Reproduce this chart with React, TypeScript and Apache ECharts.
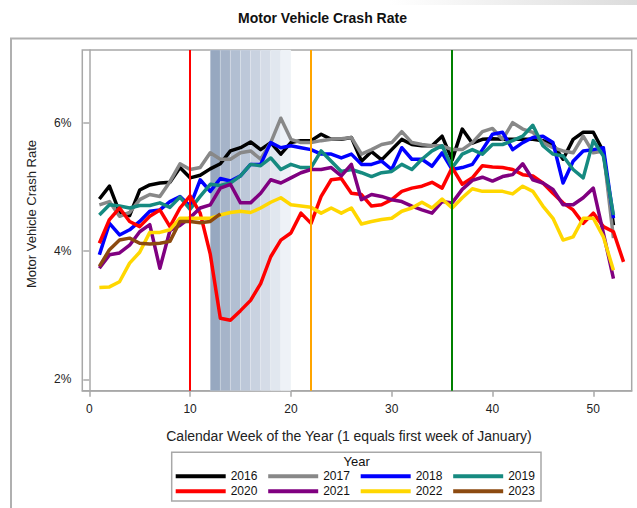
import { useEffect, useRef } from 'react';
import * as echarts from 'echarts';

// Weekly motor vehicle crash rate (%), week 1 = first element
const years = ['2016', '2017', '2018', '2019', '2020', '2021', '2022', '2023'];
const colors = ['#000000', '#888888', '#0000FF', '#168A80', '#FF0000', '#800080', '#FFD700', '#8C4A10'];

const y2016 = [4.81, 5.01, 4.6, 4.55, 4.95, 5.03, 5.06, 5.07, 5.3, 5.14, 5.18, 5.28, 5.36, 5.56, 5.61, 5.7, 5.58, 5.69, 5.51, 5.69, 5.72, 5.72, 5.82, 5.74, 5.74, 5.77, 5.4, 5.55, 5.42, 5.58, 5.74, 5.66, 5.64, 5.64, 5.79, 5.42, 5.9, 5.68, 5.74, 5.75, 5.74, 5.74, 5.74, 5.74, 5.72, 5.66, 5.43, 5.74, 5.85, 5.85, 5.55, 4.4];
const y2017 = [4.72, 4.77, 4.54, 4.6, 4.8, 4.88, 4.85, 5.08, 5.36, 5.27, 5.3, 5.53, 5.43, 5.43, 5.53, 5.56, 5.43, 5.69, 6.07, 5.74, 5.69, 5.69, 5.72, 5.74, 5.75, 5.77, 5.51, 5.58, 5.66, 5.69, 5.86, 5.69, 5.66, 5.64, 5.64, 5.58, 5.58, 5.69, 5.86, 5.91, 5.74, 6.0, 5.9, 5.85, 5.69, 5.61, 5.56, 5.53, 5.79, 5.53, 5.56, 4.2];
const y2018 = [3.94, 4.43, 4.25, 4.33, 4.46, 4.62, 4.64, 4.77, 4.85, 4.7, 5.11, 4.93, 5.13, 5.09, 5.17, 5.35, 5.35, 5.69, 5.61, 5.64, 5.61, 5.58, 5.51, 5.51, 5.45, 5.51, 5.35, 5.35, 5.4, 5.27, 5.61, 5.43, 5.43, 5.32, 5.53, 5.27, 5.3, 5.35, 5.58, 5.82, 5.85, 5.58, 5.69, 5.77, 5.79, 5.69, 5.06, 5.4, 5.56, 5.58, 5.61, 4.51];
const y2019 = [4.56, 4.72, 4.7, 4.67, 4.71, 4.71, 4.75, 4.68, 4.84, 4.65, 4.85, 5.04, 5.02, 5.06, 5.17, 5.35, 5.33, 5.45, 5.27, 5.35, 5.3, 5.3, 5.56, 5.4, 5.24, 5.27, 5.22, 5.16, 5.22, 5.24, 5.35, 5.27, 5.43, 5.56, 5.64, 5.3, 5.51, 5.58, 5.51, 5.66, 5.66, 5.72, 5.79, 5.96, 5.64, 5.51, 5.48, 5.27, 5.14, 5.72, 5.48, 4.56];
const y2020 = [4.12, 4.49, 4.67, 4.46, 4.38, 4.54, 4.64, 4.38, 4.67, 4.86, 4.59, 3.95, 2.95, 2.92, 3.07, 3.23, 3.49, 3.91, 4.17, 4.28, 4.59, 4.43, 4.85, 5.11, 5.13, 4.9, 4.88, 4.7, 4.72, 4.8, 4.93, 4.98, 5.01, 5.07, 4.98, 5.3, 5.04, 5.14, 5.33, 5.31, 5.3, 5.27, 5.19, 5.17, 5.06, 4.9, 4.75, 4.64, 4.43, 4.59, 4.38, 4.3, 3.83];
const y2021 = [3.73, 3.94, 3.97, 4.09, 4.3, 4.41, 3.73, 4.32, 4.4, 4.52, 4.67, 4.72, 4.98, 5.04, 4.75, 4.75, 4.9, 5.11, 5.06, 5.14, 5.22, 5.27, 5.27, 5.3, 5.17, 5.35, 4.8, 4.88, 4.85, 4.8, 4.77, 4.7, 4.64, 4.59, 4.77, 4.75, 4.96, 5.1, 5.15, 5.09, 5.16, 5.19, 5.36, 5.11, 5.06, 4.96, 4.72, 4.72, 4.83, 4.98, 4.28, 3.57];
const y2022 = [3.43, 3.44, 3.52, 3.81, 3.98, 4.29, 4.29, 4.33, 4.51, 4.51, 4.51, 4.51, 4.56, 4.6, 4.62, 4.6, 4.67, 4.76, 4.83, 4.72, 4.7, 4.68, 4.59, 4.67, 4.59, 4.67, 4.42, 4.46, 4.49, 4.51, 4.62, 4.67, 4.76, 4.67, 4.81, 4.67, 4.83, 4.97, 4.93, 4.93, 4.93, 4.89, 5.01, 4.93, 4.7, 4.51, 4.17, 4.22, 4.51, 4.51, 4.22, 3.7];
const y2023 = [3.76, 4.02, 4.17, 4.2, 4.12, 4.11, 4.12, 4.15, 4.46, 4.46, 4.44, 4.46, 4.58];
const seriesValues = [y2016, y2017, y2018, y2019, y2020, y2021, y2022, y2023];

// Reference weeks and shaded weeks
const refWeeks = [10, 22, 36];
const refColors = ['#FF0000', '#FFA500', '#008000'];
const shadeStarts = [12, 13, 14, 15, 16, 17, 18, 19];
const shadeColors = ['#97A8C0', '#A6B4C9', '#B2BFD2', '#BDC8D9', '#C9D2E0', '#D5DCE7', '#E1E7EF', '#EEF2F7'];

const xTicks = [0, 10, 20, 30, 40, 50];
const yTicks = [2, 4, 6];

const FONT = '"Liberation Sans", Arial, sans-serif';
const AXIS_COLOR = '#a8a8a8';

export default function App() {
  const ref = useRef<HTMLDivElement>(null);
  useEffect(() => {
    const chart = echarts.init(ref.current!, null, { renderer: 'svg' });
    const dataSeries = years.map((yr, k) => ({
      name: yr,
      type: 'line',
      data: seriesValues[k].map((v, i) => [i + 1, v]),
      showSymbol: false,
      symbol: 'none',
      lineStyle: { color: colors[k], width: 3.5, join: 'round' },
      itemStyle: { color: colors[k] },
      z: 3,
    }));
    const refSeries = {
      name: 'ref',
      type: 'line',
      data: [],
      z: 1,
      markArea: {
        silent: true,
        data: shadeStarts.map((s, i) => [
          { xAxis: s, itemStyle: { color: shadeColors[i], borderColor: 'rgba(255,255,255,0.35)', borderWidth: 0.5 } },
          { xAxis: s + 1 },
        ]),
      },
      markLine: {
        silent: true,
        symbol: ['none', 'none'],
        label: { show: false },
        data: refWeeks.map((w, i) => ({ xAxis: w, lineStyle: { color: refColors[i], width: 2, type: 'solid' } })),
      },
    };
    const legendCommon = {
      orient: 'horizontal',
      icon: 'rect',
      padding: 0,
      itemWidth: 50,
      itemHeight: 4,
      itemGap: 10.8,
      selectedMode: false,
      textStyle: { fontFamily: FONT, fontSize: 12, color: '#111' },
    };
    chart.setOption({
      animation: false,
      textStyle: { fontFamily: FONT },
      grid: {
        left: 82.3,
        top: 50,
        width: 549.4,
        height: 340.7,
        show: true,
        borderColor: AXIS_COLOR,
        borderWidth: 1.5,
        backgroundColor: 'transparent',
      },
      xAxis: {
        type: 'value',
        min: -0.694,
        max: 53.81,
        splitLine: { show: false },
        axisLine: { show: true, onZero: false, lineStyle: { color: AXIS_COLOR, width: 1.5 } },
        axisTick: { show: true, customValues: xTicks, length: 6, lineStyle: { color: AXIS_COLOR, width: 1.5 } },
        axisLabel: { customValues: xTicks, margin: 12, fontSize: 12, color: '#222', fontFamily: FONT },
      },
      yAxis: {
        type: 'value',
        min: 1.822,
        max: 7.133,
        splitLine: { show: false },
        axisLine: { show: true, lineStyle: { color: AXIS_COLOR, width: 1.5 } },
        axisTick: { show: true, customValues: yTicks, length: 6, lineStyle: { color: AXIS_COLOR, width: 1.5 } },
        axisLabel: {
          customValues: yTicks,
          margin: 11,
          fontSize: 12,
          color: '#222',
          fontFamily: FONT,
          formatter: (v: number) => `${v}%`,
        },
      },
      legend: [
        { ...legendCommon, data: years.slice(0, 4), left: 175.7, top: 470.3 },
        { ...legendCommon, data: years.slice(4), left: 175.7, top: 485.3 },
      ],
      graphic: [
        {
          type: 'rect',
          silent: true,
          shape: { x: 390, y: 0, width: 247, height: 5 },
          style: {
            fill: new echarts.graphic.LinearGradient(0, 0, 1, 0, [
              { offset: 0, color: '#ffffff' },
              { offset: 1, color: '#dcdcdc' },
            ]),
          },
        },
        {
          type: 'rect',
          silent: true,
          shape: { x: 11, y: 38.5, width: 700, height: 600 },
          style: { fill: 'none', stroke: '#b0b0b0', lineWidth: 2 },
        },
        {
          type: 'rect',
          silent: true,
          shape: { x: 171.7, y: 452.3, width: 369.3, height: 48.7 },
          style: { fill: 'none', stroke: '#a8a8a8', lineWidth: 1.5 },
        },
        {
          type: 'text',
          silent: true,
          x: 322.5,
          y: 17.5,
          style: {
            text: 'Motor Vehicle Crash Rate',
            fontFamily: FONT,
            fontSize: 14,
            fontWeight: 'bold',
            fill: '#111',
            align: 'center',
            verticalAlign: 'middle',
          },
        },
        {
          type: 'text',
          silent: true,
          x: 349,
          y: 436,
          style: {
            text: 'Calendar Week of the Year (1 equals first week of January)',
            fontFamily: FONT,
            fontSize: 14,
            fill: '#222',
            align: 'center',
            verticalAlign: 'middle',
          },
        },
        {
          type: 'text',
          silent: true,
          x: 31.7,
          y: 214,
          rotation: Math.PI / 2,
          style: {
            text: 'Motor Vehicle Crash Rate',
            fontFamily: FONT,
            fontSize: 13,
            fill: '#222',
            align: 'center',
            verticalAlign: 'middle',
          },
        },
        {
          type: 'text',
          silent: true,
          x: 356.7,
          y: 461.7,
          style: {
            text: 'Year',
            fontFamily: FONT,
            fontSize: 13,
            fill: '#111',
            align: 'center',
            verticalAlign: 'middle',
          },
        },
      ],
      series: [refSeries, ...dataSeries],
    });
    return () => chart.dispose();
  }, []);
  return <div ref={ref} style={{ position: 'absolute', left: 0, top: 0, width: 637, height: 508 }} />;
}
